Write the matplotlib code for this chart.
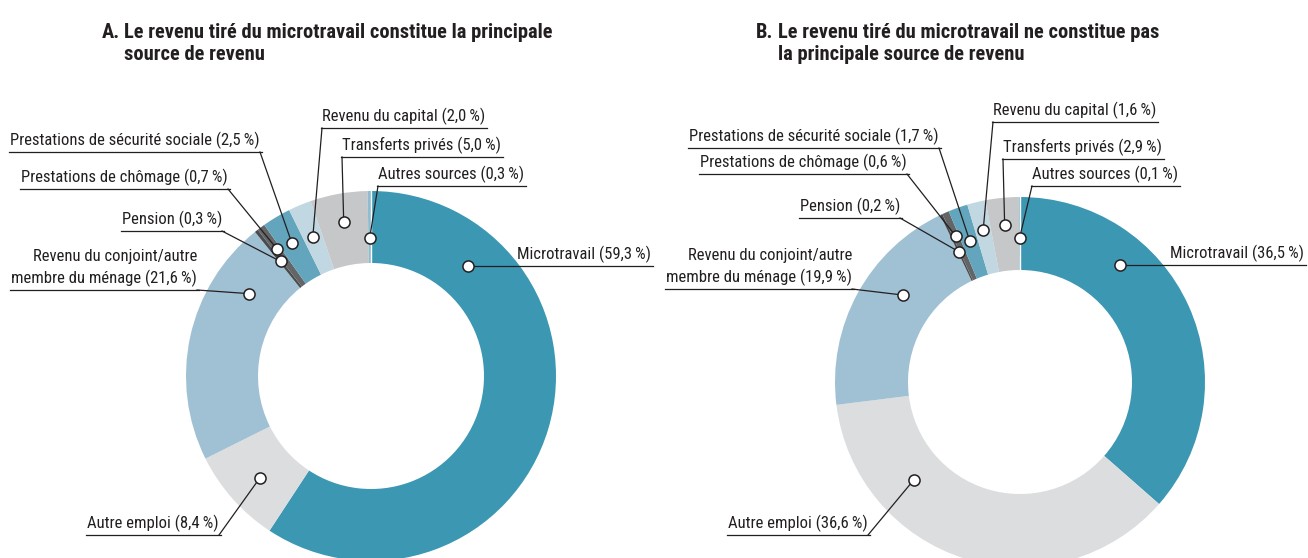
import numpy as np
import matplotlib
matplotlib.use('Agg')
import matplotlib.pyplot as plt
from matplotlib import font_manager

# 1. Data (share of total income, %)
categories = [
    'Microtravail',
    'Autre emploi',
    'Revenu du conjoint/autre\nmembre du ménage',
    'Pension',
    'Prestations de chômage',
    'Prestations de sécurité sociale',
    'Revenu du capital',
    'Transferts privés',
    'Autres sources',
]
shares_a = [59.3, 8.4, 21.6, 0.3, 0.7, 2.5, 2.0, 5.0, 0.3]
shares_b = [36.5, 36.6, 19.9, 0.2, 0.6, 1.7, 1.6, 2.9, 0.1]
title_a = 'Le revenu tiré du microtravail constitue la principale\nsource de revenu'
title_b = 'Le revenu tiré du microtravail ne constitue pas\nla principale source de revenu'

colors = ['#3c97b3', '#dcdddf', '#a0c1d3', '#4a4b4d', '#646567',
          '#62a5bd', '#c1d7e1', '#c6c7c9', '#8fbdd0']
INK = '#231f20'

# 2. Fonts: prefer a narrow face, the original uses a condensed sans
available = {f.name for f in font_manager.fontManager.ttflist}
narrow = next((n for n in ['Roboto Condensed', 'Liberation Sans Narrow',
                           'Open Sans Condensed', 'Liberation Sans']
               if n in available), 'DejaVu Sans')
FAMILY = [narrow, 'DejaVu Sans']

W, H = 1308, 558
fig = plt.figure(figsize=(W / 100, H / 100), dpi=100)
ax = fig.add_axes([0, 0, 1, 1])
# data units == pixels (y measured from the bottom)
ax.set_xlim(0, W)
ax.set_ylim(0, H)
ax.set_aspect('equal')
ax.set_autoscale_on(False)


def fmt(v):
    return f'{v:.1f}'.replace('.', ',') + '\u2009%'


# layout per panel: centre / radii in pixels, marker placement within wedge,
# label corner (x, underline y) and side of the text
panels = [
    dict(shares=shares_a, letter='A.', title=title_a,
         letter_x=102, title_x=124,
         center=(371, 376), R=185, r=113,
         mark_frac=[0.194, 0.47, 0.78, 0.5, 0.5, 0.5, 0.5, 0.5, 0.5],
         mark_rad=[147, 151, 147, 146, 158, 155, 151, 156, 138],
         corners=[(517, None), (219, 535), (197, 290), (222, 231), (228, 189),
                  (260, 152), (322, 128), (342, 157), (378, 186)]),
    dict(shares=shares_b, letter='B.', title=title_b,
         letter_x=756, title_x=778,
         center=(1020, 382), R=185, r=112,
         mark_frac=[0.31, 0.73, 0.61, 0.5, 0.5, 0.5, 0.5, 0.5, 0.5],
         mark_rad=[154, 144, 146, 144, 159, 150, 156, 158, 144],
         corners=[(1170, None), (868, 535), (852, 289), (900, 218), (907, 174),
                  (939, 148), (993, 122), (1003, 159), (1032, 186)]),
]
sides = ['marker', 'left', 'left', 'left', 'left', 'left', 'right', 'right', 'right']

renderer = fig.canvas.get_renderer()
to_data = ax.transData.inverted()

for p in panels:
    cx, cy = p['center']
    wedges, _ = ax.pie(p['shares'], radius=p['R'], center=(cx, H - cy),
                       startangle=90, counterclock=False, colors=colors,
                       wedgeprops=dict(width=p['R'] - p['r'], linewidth=0),
                       frame=True)
    ax.set_xlim(0, W)
    ax.set_ylim(0, H)
    ax.set_autoscale_on(False)

    # thin white seam where the ring closes (between last wedge and first)
    seam = np.deg2rad(wedges[0].theta2)
    ax.plot([cx + p['r'] * np.cos(seam), cx + p['R'] * np.cos(seam)],
            [H - cy + p['r'] * np.sin(seam), H - cy + p['R'] * np.sin(seam)],
            color='white', lw=1.0, zorder=2)

    # titles (hanging indent after the letter)
    tl = p['title'].split('\n')
    ax.text(p['letter_x'], H - 32, p['letter'], ha='left', va='center',
            fontsize=14.8, fontweight='bold', color=INK, family=FAMILY)
    for k, line in enumerate(tl):
        ax.text(p['title_x'], H - 32 - 23 * k, line, ha='left', va='center',
                fontsize=14.8, fontweight='bold', color=INK, family=FAMILY)

    for i, w in enumerate(wedges):
        # marker inside the wedge, measured clockwise from its start
        ang = np.deg2rad(w.theta2 - p['mark_frac'][i] * (w.theta2 - w.theta1))
        mx = cx + p['mark_rad'][i] * np.cos(ang)
        my = (H - cy) + p['mark_rad'][i] * np.sin(ang)

        label = f"{categories[i]} ({fmt(p['shares'][i])})"
        lines = label.split('\n')
        cx_l, uy = p['corners'][i]
        side = sides[i]
        uy_d = my if uy is None else H - uy
        ha = 'right' if side == 'left' else 'left'

        texts = []
        for k, line in enumerate(reversed(lines)):
            t = ax.text(cx_l, uy_d + 7 + 22 * k, line, ha=ha, va='baseline',
                        fontsize=12, color=INK, family=FAMILY)
            texts.append(t)
        ext = [to_data.transform(t.get_window_extent(renderer)) for t in texts]
        x0 = min(e[0][0] for e in ext) - 1
        x1 = max(e[1][0] for e in ext) + 2

        if side == 'marker':
            ax.plot([mx, x1], [uy_d, uy_d], color=INK, lw=0.9, zorder=3)
        else:
            ax.plot([x0, x1], [uy_d, uy_d], color=INK, lw=0.9, zorder=3)
            ax.plot([cx_l, mx], [uy_d, my], color=INK, lw=0.9, zorder=3)
        ax.plot(mx, my, 'o', ms=8, mfc='white', mec=INK, mew=1.1, zorder=5)

ax.axis('off')

fig.savefig('out.png', dpi=100)
